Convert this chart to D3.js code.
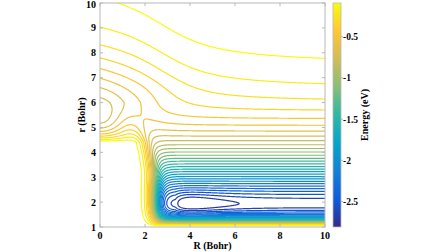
<!DOCTYPE html>
<html>
<head>
<meta charset="utf-8">
<script src="https://cdn.jsdelivr.net/npm/d3@7"></script>
<style>
  body { margin: 0; background: #fff; }
  svg { display: block; font-family: "Liberation Serif", "Times New Roman", serif; }
</style>
</head>
<body>
<svg id="chart" width="448" height="252"></svg>
<script>
// axis ticks
const xTicks = [0, 2, 4, 6, 8, 10];
const yTicks = [1, 2, 3, 4, 5, 6, 7, 8, 9, 10];
const colorTicks = [-2.5, -2, -1.5, -1, -0.5];

// contour levels (eV) and colour range of the bar
const levels = [-2.70, -2.61, -2.52, -2.43, -2.34, -2.25, -2.16, -2.07, -1.98, -1.89,
  -1.80, -1.71, -1.62, -1.53, -1.44, -1.35, -1.26, -1.17, -1.08, -0.99,
  -0.90, -0.81, -0.72, -0.63, -0.54, -0.45, -0.36, -0.27, -0.18, -0.09];
const energyRange = [-2.81, -0.09];

// potential surface parameters
const diatomWell = [2.66, 1.94, 0.77, 0.71];    // depth, r_e, inner / outer Morse range
const insertionWell = [0.78, 5.6, 0.58, 0.62];  // depth, r_e at R = 0, inner / outer range
const vdwWell = [0.15, 4.1, 0.93, 0.5];         // depth, R_e, Morse range in R, r width
const wallEdge = [2.45, 0.05, 0.2, 0.18];       // wall position, tilt, bend past r = 3, softness

const parula = ["#352a87", "#0f5cdd", "#1481d6", "#06a4ca", "#2eb7a4",
  "#87bf77", "#d1bb59", "#fec832", "#f9fb0e"];

const svg = d3.select("#chart");
const margin = { top: 3, right: 123, bottom: 25, left: 100 };
const width = 448 - margin.left - margin.right;
const height = 252 - margin.top - margin.bottom;

const x = d3.scaleLinear().domain([0, 10]).range([margin.left, margin.left + width]);
const y = d3.scaleLinear().domain([1, 10]).range([margin.top + height, margin.top]);
const color = d3.scaleSequential(d3.piecewise(d3.interpolateRgb, parula)).domain(energyRange);

// ---- potential V(R, r) ----
function morse(d, depth, a) {
  const e = Math.exp(-a * d);
  return depth * ((1 - e) * (1 - e) - 1);
}
function potential(R, r) {
  const [De, re, aIn, aOut] = diatomWell;
  const vd = morse(r - re, De, r < re ? aIn : aOut);

  // insertion well near R = 0
  const [Du, ru, cIn, cOut] = insertionWell;
  const u0 = Math.min(0, morse(r - ru, Du, r < ru ? cIn : cOut));
  const sig = 1 / (1 + Math.exp(-(r - 6) / 0.4));
  const tLong = 0.5 * Math.exp(-((R / 2.6) ** 2)) + 0.5 * Math.exp(-R / 3);
  const tShort = Math.exp(-((R / 1.5) ** 2));
  const u = u0 * (sig * tLong + (1 - sig) * tShort);

  // repulsive wall: the diatom well fades out at small R
  const [Rw, tilt, bend, soft0] = wallEdge;
  const rs = Rw - tilt * (r - 1.9) - bend * Math.pow(Math.min(Math.max(0, r - 3), 3), 1.5);
  const soft = Math.min(0.6, soft0 + 0.15 * Math.max(0, r - 4.5));
  const s = 1 / (1 + Math.exp(-(R - rs) / soft));

  // shallow well in the entrance valley
  const [Dw, Rv, bR, sr] = vdwWell;
  const w = Math.min(0, morse(R - Rv, Dw, bR)) * Math.exp(-(((r - re) / sr) ** 2));

  return vd * s + u + w;
}

// grid slightly larger than the plot so the ring closures fall outside the clip
const R0 = -0.1, dR = 0.025, nx = 409;
const r0 = 0.9, dr = 0.025, ny = 369;
const values = new Float64Array(nx * ny);
for (let j = 0; j < ny; j++) {
  for (let i = 0; i < nx; i++) {
    values[j * nx + i] = potential(R0 + i * dR, r0 + j * dr);
  }
}

const contours = d3.contours().size([nx, ny]).thresholds(levels)(values);

const proj = d3.geoTransform({
  point(px, py) {
    this.stream.point(x(R0 + (px - 0.5) * dR), y(r0 + (py - 0.5) * dr));
  }
});
const path = d3.geoPath(proj);

svg.append("clipPath").attr("id", "plotClip")
  .append("rect")
  .attr("x", margin.left).attr("y", margin.top)
  .attr("width", width).attr("height", height);

svg.append("g")
  .attr("clip-path", "url(#plotClip)")
  .selectAll("path")
  .data(contours)
  .join("path")
  .attr("d", path)
  .attr("fill", "none")
  .attr("stroke", d => color(d.value))
  .attr("stroke-width", 1.2);

// ---- axes box with inward ticks ----
const axisColor = "#b8b8b8";
svg.append("rect")
  .attr("x", margin.left).attr("y", margin.top)
  .attr("width", width).attr("height", height)
  .attr("fill", "none").attr("stroke", axisColor).attr("stroke-width", 1);

const tickLen = 3;
const ticks = svg.append("g").attr("stroke", axisColor).attr("stroke-width", 1);
xTicks.forEach(t => {
  ticks.append("line").attr("x1", x(t)).attr("x2", x(t))
    .attr("y1", margin.top + height).attr("y2", margin.top + height - tickLen);
  ticks.append("line").attr("x1", x(t)).attr("x2", x(t))
    .attr("y1", margin.top).attr("y2", margin.top + tickLen);
});
yTicks.forEach(t => {
  ticks.append("line").attr("x1", margin.left).attr("x2", margin.left + tickLen)
    .attr("y1", y(t)).attr("y2", y(t));
  ticks.append("line").attr("x1", margin.left + width).attr("x2", margin.left + width - tickLen)
    .attr("y1", y(t)).attr("y2", y(t));
});

svg.append("g")
  .attr("font-size", 10).attr("font-weight", "bold").attr("text-anchor", "middle")
  .selectAll("text").data(xTicks).join("text")
  .attr("x", d => x(d)).attr("y", margin.top + height + 12)
  .text(d => d);

svg.append("g")
  .attr("font-size", 10).attr("font-weight", "bold").attr("text-anchor", "end")
  .selectAll("text").data(yTicks).join("text")
  .attr("x", margin.left - 4).attr("y", d => Math.max(y(d) + 3.5, 8))
  .text(d => d);

svg.append("text")
  .attr("x", margin.left + width / 2).attr("y", 249)
  .attr("text-anchor", "middle").attr("font-size", 10).attr("font-weight", "bold")
  .text("R (Bohr)");

svg.append("text")
  .attr("transform", `translate(85,${margin.top + height / 2}) rotate(-90)`)
  .attr("text-anchor", "middle").attr("font-size", 10).attr("font-weight", "bold")
  .text("r (Bohr)");

// ---- colour bar ----
const cbX = 333, cbW = 8;
const cy = d3.scaleLinear().domain(energyRange).range([margin.top + height, margin.top]);
const grad = svg.append("defs").append("linearGradient")
  .attr("id", "cbGrad").attr("x1", 0).attr("y1", 1).attr("x2", 0).attr("y2", 0);
parula.forEach((c, i) => {
  grad.append("stop").attr("offset", i / (parula.length - 1)).attr("stop-color", c);
});
svg.append("rect")
  .attr("x", cbX).attr("y", cy(energyRange[1]))
  .attr("width", cbW).attr("height", cy(energyRange[0]) - cy(energyRange[1]))
  .attr("fill", "url(#cbGrad)")
  .attr("stroke", axisColor).attr("stroke-width", 0.8);

const cbTicks = svg.append("g").attr("stroke", axisColor).attr("stroke-width", 1);
colorTicks.forEach(t => {
  cbTicks.append("line").attr("x1", cbX + cbW).attr("x2", cbX + cbW + 2)
    .attr("y1", cy(t)).attr("y2", cy(t));
});
svg.append("g")
  .attr("font-size", 9.5).attr("font-weight", "bold")
  .selectAll("text").data(colorTicks).join("text")
  .attr("x", cbX + cbW + 2).attr("y", d => cy(d) + 3.5)
  .text(d => d);

svg.append("text")
  .attr("transform", `translate(368,${margin.top + height / 2}) rotate(-90)`)
  .attr("text-anchor", "middle").attr("font-size", 10).attr("font-weight", "bold")
  .text("Energy (eV)");
</script>
</body>
</html>
